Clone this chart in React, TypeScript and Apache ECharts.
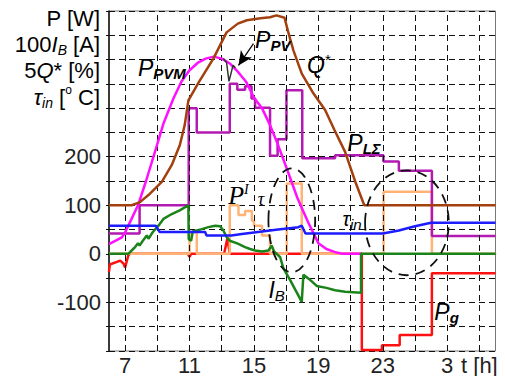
import React, { useEffect, useRef } from 'react';
import * as echarts from 'echarts';

// ---- axis ticks / labels ----
const xLabelHours = [7, 11, 15, 19, 23, 27, 29];
const xLabelTexts = ['7', '11', '15', '19', '23', '3', 't [h]'];
const gridHours = [7, 9, 11, 13, 15, 17, 19, 21, 23, 25, 27, 29];
const yLabelValues = [200, 100, 0, -100];

// ---- series (hour, value) ----
const redPg: [number, number][] = [
  [6, -37], [6.05, -22], [6.7, -14], [6.9, -20], [7.0, -28], [7.2, -3], [7.3, 0], [10.9, 0], [11.0, -6], [11.1, 0],
  [13.15, 0], [13.35, 32], [13.5, 0], [21.7, 0], [21.7, -198], [22.95, -198], [22.95, -188], [24.05, -188],
  [24.05, -167], [26.05, -167], [26.05, -40], [30, -40],
];
const orangePIT: [number, number][] = [
  [6, 0], [11.0, 0], [11.0, 45], [11.45, 45], [11.45, 0], [13.5, 0], [13.5, 100], [14.04, 100], [14.04, 80],
  [14.45, 80], [14.45, 88], [14.87, 88], [14.87, 68], [15.0, 68], [15.0, 58], [15.5, 58], [15.5, 38], [16.0, 38],
  [16.0, 0], [17.04, 0], [17.04, 145], [17.97, 145], [17.97, 0], [23.05, 0], [23.05, 128], [26.05, 128], [26.05, 0], [30, 0],
];
const purplePL: [number, number][] = [
  [6, 42], [7.9, 42], [7.9, 100], [10.95, 100], [10.95, 300], [11.45, 300], [11.45, 250], [13.5, 250], [13.5, 350],
  [13.97, 350], [13.97, 338], [14.45, 338], [14.45, 345], [14.85, 345], [14.85, 320], [15.07, 320], [15.07, 301],
  [16.0, 301], [16.0, 202], [16.47, 202], [16.47, 236], [17.02, 236], [17.02, 337], [18.0, 337], [18.0, 197],
  [20.04, 197], [20.04, 203], [23.04, 203], [23.04, 190], [24.0, 190], [24.0, 171], [26.05, 171], [26.05, 37], [30, 37],
];
const magentaPVM: [number, number][] = [
  [6, 20], [6.8, 34], [7.0, 44], [7.4, 72], [7.8, 100], [8.3, 150], [8.9, 215], [9.4, 270], [10.0, 320], [10.5, 355],
  [11.0, 378], [11.5, 393], [12.0, 402], [12.5, 406], [13.0, 402], [13.5, 392], [14.0, 375], [14.5, 355], [15.0, 322],
  [15.5, 300], [16.0, 265], [16.5, 224], [17.1, 170], [17.7, 115], [18.35, 66], [19.0, 22], [19.5, 10], [20.0, 4],
  [20.5, 0], [21.7, 0],
];
const darkPPV: [number, number][] = [
  [13.1, 402], [13.3, 394], [13.45, 355], [13.55, 368], [13.7, 388], [13.85, 383],
];
const brownQ: [number, number][] = [
  [6, 100], [7.4, 100], [7.9, 106], [8.45, 121], [9.28, 148], [9.9, 183], [10.4, 224], [10.7, 265], [10.93, 316],
  [11.55, 352], [12.48, 402], [13.3, 456], [14.0, 474], [14.56, 481], [15.4, 485], [16.0, 487], [16.4, 491],
  [16.9, 486], [17.1, 460], [17.45, 419], [17.97, 371], [18.7, 330], [19.42, 296], [20.0, 255], [20.66, 210],
  [21.3, 148], [21.85, 100], [30, 100],
];
const greenIB: [number, number][] = [
  [6, 0], [7.2, 0], [7.5, 10], [7.62, 14], [7.8, 22], [7.9, 17], [8.1, 27], [8.35, 38], [8.45, 31], [8.7, 44],
  [9.07, 58], [9.38, 72], [9.9, 82], [10.42, 90], [10.93, 100], [10.95, 30], [11.1, 27], [11.2, 46], [11.76, 51],
  [12.17, 55], [12.6, 58], [12.9, 57], [13.1, 48], [13.3, 35], [13.5, 27], [14.0, 21], [14.45, 14], [14.76, 10],
  [15.07, 7], [15.5, 5], [15.9, 7], [16.1, 17], [16.25, 5], [16.63, -7], [16.83, -30], [17.25, -54], [17.97, -99],
  [18.07, -43], [18.5, -54], [18.9, -66], [19.5, -70], [20.04, -75], [20.66, -78], [21.65, -80], [21.65, 0], [30, 0],
];
const blueTau: [number, number][] = [
  [6, 58], [8.9, 58], [9.15, 45], [11.97, 45], [12.05, 38], [13.6, 38], [14.25, 41], [15.5, 46], [16.5, 50],
  [17.76, 55], [17.97, 58], [18.2, 42], [23.0, 42], [24.0, 48], [25.0, 57], [26.0, 64], [30, 64],
];

// annotation anchors (data coordinates)
const arrowFrom: [number, number] = [14.97, 433];
const arrowTo: [number, number] = [14.04, 388];
const ellipseCenters: [number, number][] = [[17.35, 69], [24.5, 64]];
const ellipseRadii: [number, number][] = [[1.45, 107], [2.6, 108]];

const labelAnchors: { at: [number, number]; text: string }[] = [
  { at: [7.8, 382], text: '{p|P}{pb|PVM}' },
  { at: [15.07, 440], text: '{p|P}{pb|PV}' },
  { at: [18.3, 388], text: '{p|Q}{sup|*}' },
  { at: [20.8, 228], text: '{p|P}{pb|LΣ}' },
  { at: [13.4, 121], text: '{ps|P}{ssup|I}{ssub|  τ}' },
  { at: [20.5, 72], text: '{t|τ}{si|in}' },
  { at: [15.9, -74], text: '{p|I}{si|B}' },
  { at: [26.2, -120], text: '{p|P}{pb|g}' },
];

const SANS = '"Liberation Sans", Arial, sans-serif';
const SERIF = '"Liberation Serif", "Times New Roman", serif';
const NAVY = '#0f1a3a';

function lineSeries(name: string, data: [number, number][], color: string, z: number, width = 2.5): any {
  return {
    name,
    type: 'line',
    data,
    showSymbol: false,
    symbol: 'none',
    z,
    lineStyle: { color, width },
    itemStyle: { color },
    silent: true,
  };
}

export default function App() {
  const ref = useRef<HTMLDivElement>(null);
  useEffect(() => {
    if (!ref.current) return;
    const chart = echarts.init(ref.current, undefined, { renderer: 'svg' });
    chart.setOption({
      animation: false,
      backgroundColor: '#fff',
      grid: { left: 109, right: 9.5, top: 11, bottom: 25, show: true, borderColor: '#777', borderWidth: 1 },
      xAxis: {
        type: 'value',
        min: 6,
        max: 30,
        interval: 1,
        axisLine: { show: true, lineStyle: { color: '#111', width: 1.5 } },
        axisTick: { show: false },
        splitLine: { show: false },
        axisLabel: {
          fontFamily: SANS,
          fontSize: 22,
          color: '#222',
          margin: 3,
          formatter: (v: number) => {
            const i = xLabelHours.indexOf(v);
            return i >= 0 ? xLabelTexts[i] : '';
          },
        },
      },
      yAxis: {
        type: 'value',
        min: -200,
        max: 500,
        interval: 50,
        axisLine: { show: true, lineStyle: { color: '#111', width: 1.5 } },
        axisTick: { show: true, length: 3, lineStyle: { color: '#111' } },
        splitLine: { show: true, lineStyle: { color: '#111', width: 1, type: [6, 4] } },
        axisLabel: {
          fontFamily: SANS,
          fontSize: 22,
          color: '#222',
          margin: 8,
          formatter: (v: number) => (yLabelValues.indexOf(v) >= 0 ? String(v) : ''),
        },
      },
      series: [
        {
          type: 'line',
          data: [],
          z: 1,
          silent: true,
          markLine: {
            silent: true,
            symbol: 'none',
            label: { show: false },
            lineStyle: { color: '#111', width: 1, type: [6, 4] },
            data: gridHours.map((h) => ({ xAxis: h })),
          },
        },
        lineSeries('Pg', redPg, '#ff1010', 2),
        lineSeries('PIT', orangePIT, '#ffb375', 3),
        lineSeries('PLΣ', purplePL, '#b21ab2', 4),
        lineSeries('PPVM', magentaPVM, '#ff10ff', 5),
        {
          ...lineSeries('PPV', darkPPV, '#333', 6, 1.5),
          markLine: {
            silent: true,
            symbol: ['none', 'arrow'],
            symbolSize: [10, 14],
            label: { show: false },
            lineStyle: { color: '#000', width: 1.2, type: 'solid' },
            data: [[{ coord: arrowFrom }, { coord: arrowTo }]],
          },
        },
        lineSeries('Q*', brownQ, '#a3400f', 6),
        lineSeries('IB', greenIB, '#1a841a', 7),
        lineSeries('τin', blueTau, '#1c1cff', 8),
      ],
    });

    const toPx = (p: [number, number]) => chart.convertToPixel({ gridIndex: 0 }, p) as number[];
    const headerRich = {
      n: { fontFamily: SANS, fontSize: 22, lineHeight: 26, color: '#222' },
      i: { fontFamily: SANS, fontSize: 22, lineHeight: 26, color: '#222', fontStyle: 'italic' },
      s: { fontFamily: SANS, fontSize: 14, lineHeight: 12, color: '#222', fontStyle: 'italic', verticalAlign: 'bottom' },
      sup: { fontFamily: SANS, fontSize: 12, lineHeight: 12, color: '#222', verticalAlign: 'top' },
    };
    const plotRich = {
      p: { fontFamily: SANS, fontSize: 23, lineHeight: 26, color: NAVY, fontStyle: 'italic' },
      pb: { fontFamily: SANS, fontSize: 15, lineHeight: 12, color: NAVY, fontStyle: 'italic', fontWeight: 'bold', verticalAlign: 'bottom' },
      si: { fontFamily: SANS, fontSize: 15, lineHeight: 12, color: NAVY, fontStyle: 'italic', verticalAlign: 'bottom' },
      sup: { fontFamily: SANS, fontSize: 15, lineHeight: 12, color: NAVY, verticalAlign: 'top' },
      t: { fontFamily: SANS, fontSize: 20, lineHeight: 26, color: NAVY, fontStyle: 'italic' },
      ps: { fontFamily: SERIF, fontSize: 26, lineHeight: 26, color: NAVY, fontStyle: 'italic' },
      ssup: { fontFamily: SERIF, fontSize: 14, lineHeight: 12, color: NAVY, fontStyle: 'italic', verticalAlign: 'top' },
      ssub: { fontFamily: SERIF, fontSize: 18, lineHeight: 14, color: NAVY, fontStyle: 'italic', verticalAlign: 'bottom' },
    };
    const headers = [
      { y: 18, text: '{n|P [W]}' },
      { y: 44, text: '{n|100}{i|I}{s|B}{n| [A]}' },
      { y: 70, text: '{n|5}{i|Q}{n|* [%]}' },
      { y: 97, text: '{i|τ}{s|in}{n| [}{sup|o}{n| C]}' },
    ];
    const graphics: any[] = [];
    headers.forEach((h) =>
      graphics.push({
        type: 'text',
        x: 100,
        y: h.y,
        silent: true,
        style: { text: h.text, rich: headerRich, align: 'right', verticalAlign: 'middle' },
      })
    );
    labelAnchors.forEach((l) => {
      const p = toPx(l.at);
      graphics.push({
        type: 'text',
        x: p[0],
        y: p[1],
        silent: true,
        z: 20,
        style: { text: l.text, rich: plotRich, align: 'left', verticalAlign: 'middle' },
      });
    });
    ellipseCenters.forEach((c, k) => {
      const p0 = toPx(c);
      const p1 = toPx([c[0] + ellipseRadii[k][0], c[1] + ellipseRadii[k][1]]);
      graphics.push({
        type: 'ellipse',
        silent: true,
        z: 15,
        shape: { cx: p0[0], cy: p0[1], rx: Math.abs(p1[0] - p0[0]), ry: Math.abs(p1[1] - p0[1]) },
        style: { fill: 'none', stroke: '#111', lineWidth: 1.8, lineDash: [10, 7] },
      });
    });
    chart.setOption({ graphic: graphics });
    return () => chart.dispose();
  }, []);
  return (
    <div
      ref={ref}
      style={{ position: 'absolute', left: 0, top: 0, width: 505, height: 376, background: '#fff' }}
    />
  );
}
